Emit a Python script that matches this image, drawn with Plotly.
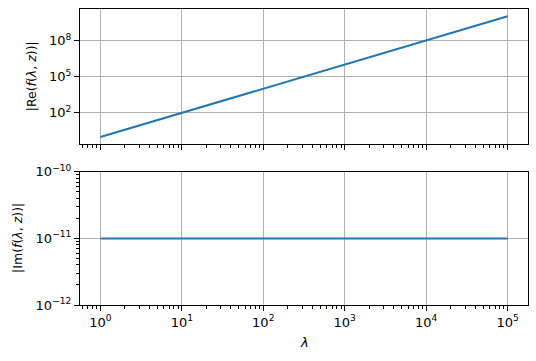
import plotly.graph_objects as go
from plotly.subplots import make_subplots

# Data
lam = [1, 10, 100, 1000, 10000, 100000]
re_vals = [1e0, 1e2, 1e4, 1e6, 1e8, 1e10]
im_vals = [1e-11, 1e-11, 1e-11, 1e-11, 1e-11, 1e-11]

x_ticks = [1, 10, 100, 1000, 10000, 100000]
x_ticktext = ["10<sup>0</sup>", "10<sup>1</sup>", "10<sup>2</sup>", "10<sup>3</sup>", "10<sup>4</sup>", "10<sup>5</sup>"]
y1_ticks = [1e2, 1e5, 1e8]
y1_ticktext = ["10<sup>2</sup>", "10<sup>5</sup>", "10<sup>8</sup>"]
y2_ticks = [1e-12, 1e-11, 1e-10]
y2_ticktext = ["10<sup>\u221212</sup>", "10<sup>\u221211</sup>", "10<sup>\u221210</sup>"]

re_label = "|Re(<i>f</i>(<i>\u03bb</i>, <i>z</i>))|"
im_label = "|Im(<i>f</i>(<i>\u03bb</i>, <i>z</i>))|"
x_label = "<i>\u03bb</i>"

# minor tick positions
x_minor = [m * 10 ** e for e in range(-1, 6) for m in range(2, 10)]
y2_minor = [m * 10.0 ** e for e in (-12, -11) for m in range(2, 10)]

BLUE = "#1f77b4"
GRID = "#b0b0b0"
FONT = "DejaVu Sans"

fig = make_subplots(rows=2, cols=1, shared_xaxes=True, vertical_spacing=0.095)

fig.add_trace(go.Scatter(x=lam, y=re_vals, mode="lines", line=dict(color=BLUE, width=2)), row=1, col=1)
fig.add_trace(go.Scatter(x=lam, y=im_vals, mode="lines", line=dict(color=BLUE, width=2)), row=2, col=1)

common_x = dict(
    type="log", range=[-0.25, 5.25], tickvals=x_ticks, ticktext=x_ticktext,
    showgrid=True, gridcolor=GRID, gridwidth=1.1,
    showline=True, linecolor="black", linewidth=1.1, mirror=True,
    ticks="outside", ticklen=5, tickwidth=1.1, tickcolor="black",
    minor=dict(tickvals=x_minor, ticks="outside", ticklen=3, tickwidth=0.8, tickcolor="black", showgrid=False),
    zeroline=False, automargin=False,
)
fig.update_xaxes(**common_x)
fig.update_xaxes(showticklabels=False, row=1, col=1)

fig.update_yaxes(
    type="log", showgrid=True, gridcolor=GRID, gridwidth=1.1,
    showline=True, linecolor="black", linewidth=1.1, mirror=True,
    ticks="outside", ticklen=5, tickwidth=1.1, tickcolor="black", zeroline=False,
    automargin=False,
)
fig.update_yaxes(range=[-0.55, 10.6], tickvals=y1_ticks, ticktext=y1_ticktext, row=1, col=1)
fig.update_yaxes(range=[-12, -10], tickvals=y2_ticks, ticktext=y2_ticktext,
                 minor=dict(tickvals=y2_minor, ticks="outside", ticklen=3, tickwidth=0.8, tickcolor="black", showgrid=False),
                 row=2, col=1)

title_font = dict(family=FONT, size=12.5, color="black")
fig.add_annotation(text=re_label, textangle=-90, xref="paper", x=-0.1094, yref="y domain", y=0.5,
                   xanchor="center", yanchor="middle", showarrow=False, font=title_font)
fig.add_annotation(text=im_label, textangle=-90, xref="paper", x=-0.1395, yref="y2 domain", y=0.5,
                   xanchor="center", yanchor="middle", showarrow=False, font=title_font)
fig.add_annotation(text=x_label, xref="x2 domain", x=0.5, yref="paper", y=-0.1267,
                   xanchor="center", yanchor="middle", showarrow=False, font=dict(family=FONT, size=13, color="black"))

fig.update_layout(
    width=536, height=361,
    margin=dict(l=80, r=8, t=9, b=56),
    paper_bgcolor="white", plot_bgcolor="white",
    showlegend=False,
    font=dict(family=FONT, size=13, color="black"),
)
fig.update_layout(yaxis=dict(domain=[0.545, 1.0]), yaxis2=dict(domain=[0.0, 0.45]))

fig.write_html("out.html")
